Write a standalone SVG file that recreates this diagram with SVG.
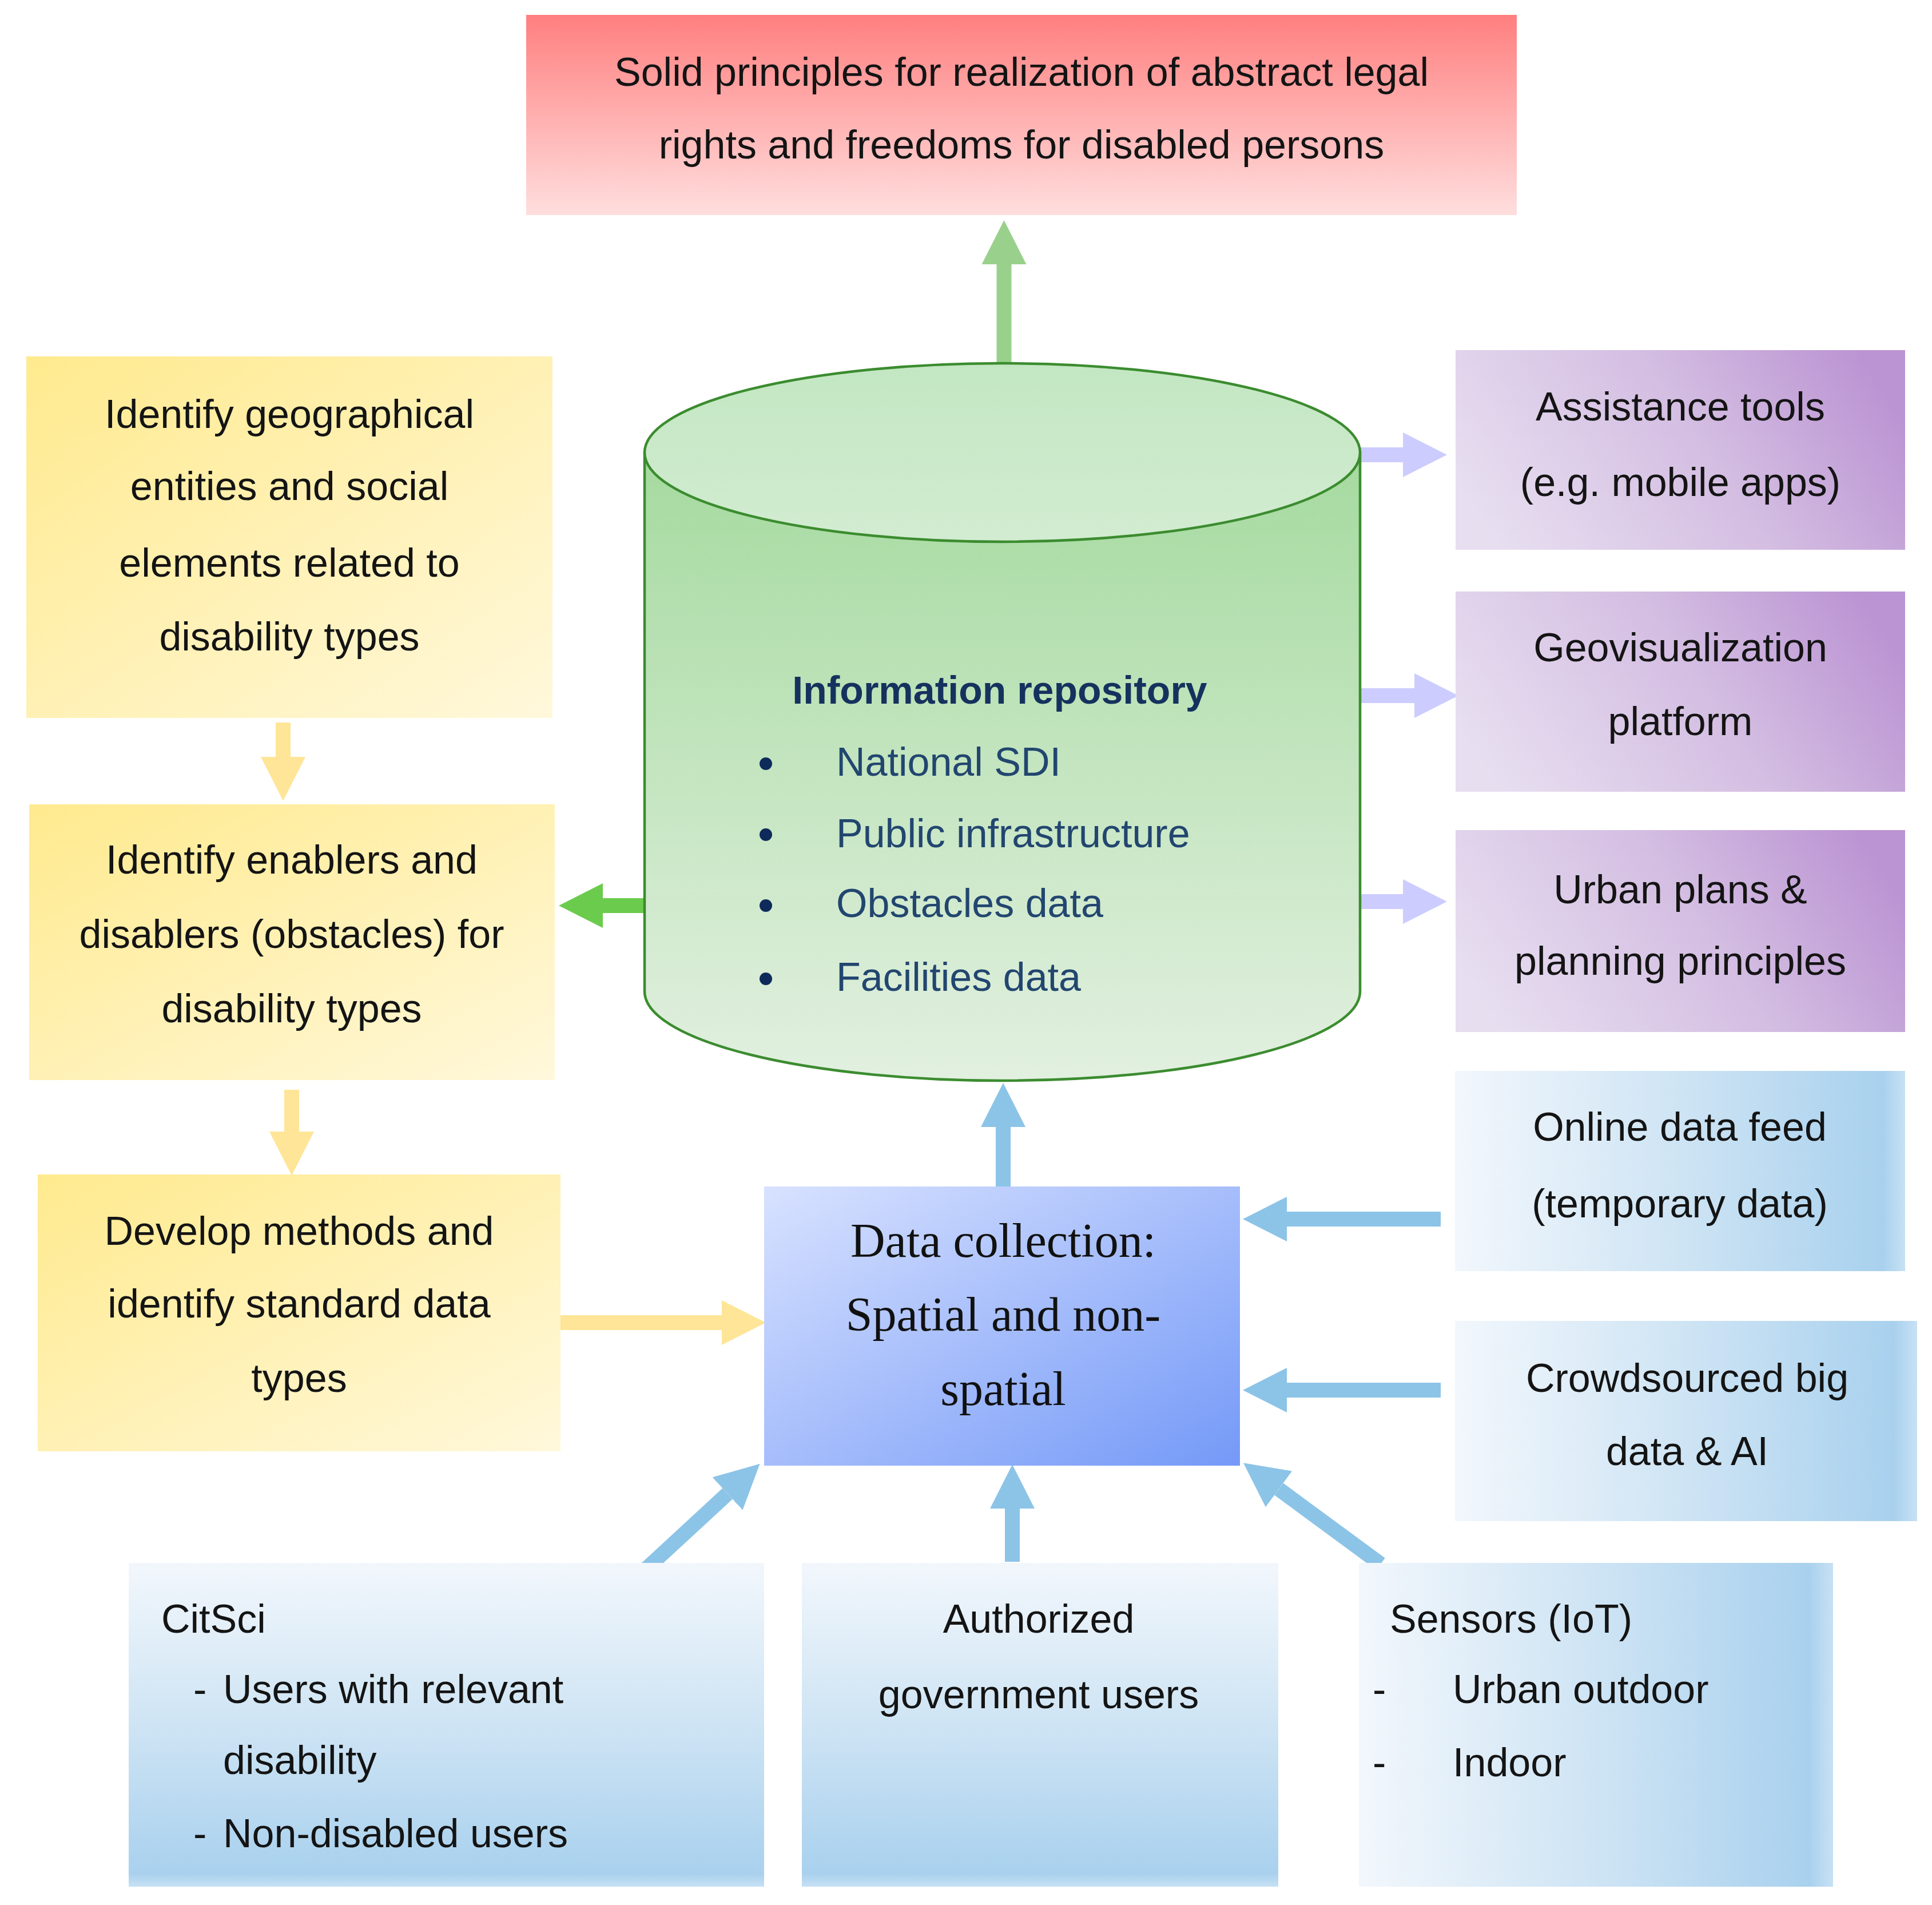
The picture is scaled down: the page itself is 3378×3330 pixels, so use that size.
<svg xmlns="http://www.w3.org/2000/svg" width="3378" height="3330" viewBox="0 0 3378 3330">
<defs>
<style>
.t{font-family:"Liberation Sans",Arial,sans-serif;font-size:70px;fill:#141414}
.c{text-anchor:middle}
.s{font-family:"Liberation Serif","Times New Roman",serif;font-size:84px;fill:#111;text-anchor:middle}
.rp{font-family:"Liberation Sans",Arial,sans-serif;font-size:70px;fill:#22466F}
.rpt{font-family:"Liberation Sans",Arial,sans-serif;font-size:68px;font-weight:bold;fill:#15325E;text-anchor:middle}
.sh{fill:none;stroke-width:26;stroke-linecap:butt}
</style>
<linearGradient id="gRed" x1="0" y1="0" x2="0" y2="1"><stop offset="0" stop-color="#FF7F7F"/><stop offset="1" stop-color="#FFDEDE"/></linearGradient>
<linearGradient id="gYel" x1="0" y1="0" x2="1" y2="1"><stop offset="0" stop-color="#FFEA8E"/><stop offset="1" stop-color="#FFF8DB"/></linearGradient>
<linearGradient id="gPur" x1="0" y1="0.65" x2="1" y2="0.35"><stop offset="0" stop-color="#E7DEF0"/><stop offset="0.55" stop-color="#D4BEE2"/><stop offset="1" stop-color="#BB94D3"/></linearGradient>
<linearGradient id="gBlH" x1="0" y1="0" x2="1" y2="0"><stop offset="0" stop-color="#F2F7FC"/><stop offset="0.5" stop-color="#CEE4F4"/><stop offset="0.95" stop-color="#A9D1EE"/><stop offset="1" stop-color="#C7E1F4"/></linearGradient>
<linearGradient id="gBlV" x1="0" y1="0" x2="0" y2="1"><stop offset="0" stop-color="#F2F7FC"/><stop offset="0.5" stop-color="#CEE4F4"/><stop offset="0.96" stop-color="#A9D1EE"/><stop offset="1" stop-color="#C7E1F4"/></linearGradient>
<linearGradient id="gDC" x1="0" y1="0" x2="1" y2="1"><stop offset="0" stop-color="#D8E2FF"/><stop offset="1" stop-color="#7499F7"/></linearGradient>
<linearGradient id="gCyl" x1="0" y1="0" x2="0" y2="1"><stop offset="0" stop-color="#A5DA9F"/><stop offset="1" stop-color="#E2F0E0"/></linearGradient>
<linearGradient id="gTop" x1="0" y1="0" x2="0" y2="1"><stop offset="0" stop-color="#C3E7C2"/><stop offset="1" stop-color="#D2ECD1"/></linearGradient>
<marker id="mGL" markerUnits="userSpaceOnUse" markerWidth="78" markerHeight="78" refX="0" refY="39" orient="auto"><path d="M0,0 L77,39 L0,78 Z" fill="#99D18C"/></marker>
<marker id="mGB" markerUnits="userSpaceOnUse" markerWidth="78" markerHeight="78" refX="0" refY="39" orient="auto"><path d="M0,0 L77,39 L0,78 Z" fill="#6BCB4D"/></marker>
<marker id="mY" markerUnits="userSpaceOnUse" markerWidth="78" markerHeight="78" refX="0" refY="39" orient="auto"><path d="M0,0 L77,39 L0,78 Z" fill="#FFE597"/></marker>
<marker id="mL" markerUnits="userSpaceOnUse" markerWidth="78" markerHeight="78" refX="0" refY="39" orient="auto"><path d="M0,0 L77,39 L0,78 Z" fill="#CCCCFF"/></marker>
<marker id="mB" markerUnits="userSpaceOnUse" markerWidth="78" markerHeight="78" refX="0" refY="39" orient="auto"><path d="M0,0 L77,39 L0,78 Z" fill="#8CC4E7"/></marker>
</defs>
<rect width="3378" height="3330" fill="#fff"/>
<g id="connectors">
<path class="sh" stroke="#99D18C" d="M1755.5,640 V462" marker-end="url(#mGL)"/>
<path class="sh" stroke="#6BCB4D" d="M1130,1583 H1054" marker-end="url(#mGB)"/>
<path class="sh" stroke="#CCCCFF" d="M2375,795 H2453" marker-end="url(#mL)"/>
<path class="sh" stroke="#CCCCFF" d="M2375,1216 H2473" marker-end="url(#mL)"/>
<path class="sh" stroke="#CCCCFF" d="M2375,1576 H2453" marker-end="url(#mL)"/>
<path class="sh" stroke="#FFE597" d="M495,1263 V1323" marker-end="url(#mY)"/>
<path class="sh" stroke="#FFE597" d="M510,1905 V1978" marker-end="url(#mY)"/>
<path class="sh" stroke="#FFE597" d="M980,2312 H1262" marker-end="url(#mY)"/>
<path class="sh" stroke="#8CC4E7" d="M1754,2074 V1970" marker-end="url(#mB)"/>
<path class="sh" stroke="#8CC4E7" d="M2519,2131 H2250" marker-end="url(#mB)"/>
<path class="sh" stroke="#8CC4E7" d="M2519,2430 H2250" marker-end="url(#mB)"/>
<path class="sh" stroke="#8CC4E7" d="M1129,2743 L1272,2611" marker-end="url(#mB)"/>
<path class="sh" stroke="#8CC4E7" d="M1770,2730 V2637" marker-end="url(#mB)"/>
<path class="sh" stroke="#8CC4E7" d="M2414,2734 L2236,2603" marker-end="url(#mB)"/>
</g>
<g id="n-principles">
<rect x="920" y="26" width="1732" height="350" fill="url(#gRed)"/>
<text class="t c" x="1786" y="150">Solid principles for realization  of abstract legal</text>
<text class="t c" x="1786" y="277">rights and freedoms for disabled persons</text>
</g>
<g id="n-identify-geo">
<rect x="46" y="623" width="920" height="632" fill="url(#gYel)"/>
<text class="t c" x="506" y="748">Identify geographical</text>
<text class="t c" x="506" y="874">entities and social</text>
<text class="t c" x="506" y="1008">elements related to</text>
<text class="t c" x="506" y="1137">disability  types</text>
</g>
<g id="n-identify-enablers">
<rect x="51" y="1406" width="919" height="482" fill="url(#gYel)"/>
<text class="t c" x="510" y="1527">Identify enablers and</text>
<text class="t c" x="510" y="1657">disablers (obstacles) for</text>
<text class="t c" x="510" y="1787">disability  types</text>
</g>
<g id="n-develop">
<rect x="66" y="2053" width="914" height="484" fill="url(#gYel)"/>
<text class="t c" x="523" y="2176">Develop methods and</text>
<text class="t c" x="523" y="2303">identify standard data</text>
<text class="t c" x="523" y="2433">types</text>
</g>
<g id="n-repository">
<path d="M1127,791 V1733 A625.5,156 0 0 0 2378,1733 V791 Z" fill="url(#gCyl)" stroke="#3B8C2F" stroke-width="4.5"/>
<ellipse cx="1752.5" cy="791" rx="625.5" ry="156" fill="url(#gTop)" stroke="#3B8C2F" stroke-width="4.5"/>
<text class="rpt" x="1748" y="1230">Information repository</text>
<g fill="#0E2A5A">
<circle cx="1339" cy="1335" r="11"/>
<circle cx="1339" cy="1459" r="11"/>
<circle cx="1339" cy="1583" r="11"/>
<circle cx="1339" cy="1711" r="11"/>
</g>
<text class="rp" x="1462" y="1356">National SDI</text>
<text class="rp" x="1462" y="1481">Public infrastructure</text>
<text class="rp" x="1462" y="1603">Obstacles data</text>
<text class="rp" x="1462" y="1732">Facilities  data</text>
</g>
<g id="n-assistance">
<rect x="2545" y="612" width="786" height="349" fill="url(#gPur)"/>
<text class="t c" x="2938" y="735">Assistance tools</text>
<text class="t c" x="2938" y="867">(e.g. mobile apps)</text>
</g>
<g id="n-geovis">
<rect x="2545" y="1034" width="786" height="350" fill="url(#gPur)"/>
<text class="t c" x="2938" y="1156">Geovisualization</text>
<text class="t c" x="2938" y="1285">platform</text>
</g>
<g id="n-urban">
<rect x="2545" y="1451" width="786" height="353" fill="url(#gPur)"/>
<text class="t c" x="2938" y="1579">Urban plans &amp;</text>
<text class="t c" x="2938" y="1704">planning principles</text>
</g>
<g id="n-datacollection">
<rect x="1336" y="2074" width="832" height="488" fill="url(#gDC)"/>
<text class="s" x="1754" y="2197">Data collection:</text>
<text class="s" x="1754" y="2326">Spatial and non-</text>
<text class="s" x="1754" y="2456">spatial</text>
</g>
<g id="n-online">
<rect x="2544" y="1872" width="787" height="350" fill="url(#gBlH)"/>
<text class="t c" x="2937" y="1994">Online data feed</text>
<text class="t c" x="2937" y="2128">(temporary data)</text>
</g>
<g id="n-crowd">
<rect x="2544" y="2309" width="808" height="350" fill="url(#gBlH)"/>
<text class="t c" x="2950" y="2433">Crowdsourced big</text>
<text class="t c" x="2950" y="2561">data &amp; AI</text>
</g>
<g id="n-citsci">
<rect x="225" y="2732" width="1111" height="566" fill="url(#gBlV)"/>
<text class="t" x="282" y="2854">CitSci</text>
<text class="t" x="338" y="2977">-</text>
<text class="t" x="390" y="2977">Users with relevant</text>
<text class="t" x="390" y="3101">disability</text>
<text class="t" x="338" y="3229">-</text>
<text class="t" x="390" y="3229">Non-disabled users</text>
</g>
<g id="n-authorized">
<rect x="1402" y="2732" width="833" height="566" fill="url(#gBlV)"/>
<text class="t c" x="1816" y="2854">Authorized</text>
<text class="t c" x="1816" y="2986">government users</text>
</g>
<g id="n-sensors">
<rect x="2376" y="2732" width="829" height="566" fill="url(#gBlH)"/>
<text class="t" x="2430" y="2854">Sensors (IoT)</text>
<text class="t" x="2400" y="2977">-</text>
<text class="t" x="2540" y="2977">Urban outdoor</text>
<text class="t" x="2400" y="3105">-</text>
<text class="t" x="2540" y="3105">Indoor</text>
</g>
</svg>
